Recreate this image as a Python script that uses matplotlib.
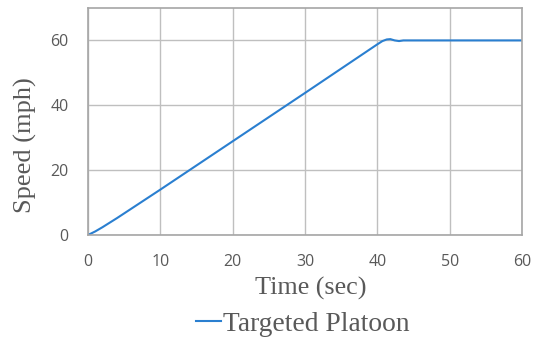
import matplotlib.pyplot as plt

# speed profile of the targeted platoon
time_s = [0, 1, 2, 3, 4, 10, 20, 30, 40, 40.7, 41.3, 41.8, 42.4, 43.0, 43.6, 44.5, 50, 60]
speed_mph = [0, 1.1, 2.4, 3.8, 5.2, 14.0, 28.9, 43.8, 58.8, 59.8, 60.3, 60.4, 60.0, 59.8, 60.0, 60.0, 60.0, 60.0]

x_ticks = [0, 10, 20, 30, 40, 50, 60]
y_ticks = [0, 20, 40, 60]

W, H = 533, 340
fig = plt.figure(figsize=(W / 100, H / 100), dpi=100)
ax = fig.add_axes([88 / W, 1 - 235 / H, 434 / W, 227 / H])

ax.plot(time_s, speed_mph, color='#2a7fd0', lw=1.5, label='Targeted Platoon')

ax.set_xlim(0, 60)
ax.set_ylim(0, 70)
ax.set_xticks(x_ticks)
ax.set_yticks(y_ticks)
ax.grid(True, color='#bfbfbf', lw=1.0)
ax.set_axisbelow(True)
ax.tick_params(length=0, labelsize=11.5, labelcolor='#595959')
ax.tick_params(axis='x', pad=14)
ax.tick_params(axis='y', pad=14)
for lab in ax.get_xticklabels() + ax.get_yticklabels():
    lab.set_family('Open Sans')
for s in ax.spines.values():
    s.set_color('#a6a6a6')
    s.set_linewidth(1.2)

serif = {'family': 'Liberation Serif', 'color': '#595959'}
fig.text(311 / W, 1 - 295 / H, 'Time (sec)', size=18.8, ha='center', va='baseline', **serif)
fig.text(25 / W, 1 - 145 / H, 'Speed (mph)', size=19, rotation=90,
         ha='center', va='center', **serif)

leg = fig.legend(loc='center', bbox_to_anchor=(303 / W, 1 - 324 / H), frameon=False,
                 handlelength=0.9, handletextpad=0.1, borderpad=0,
                 prop={'family': 'Liberation Serif', 'size': 19.8})
for t in leg.get_texts():
    t.set_color('#595959')

fig.savefig('out.png', dpi=100)
